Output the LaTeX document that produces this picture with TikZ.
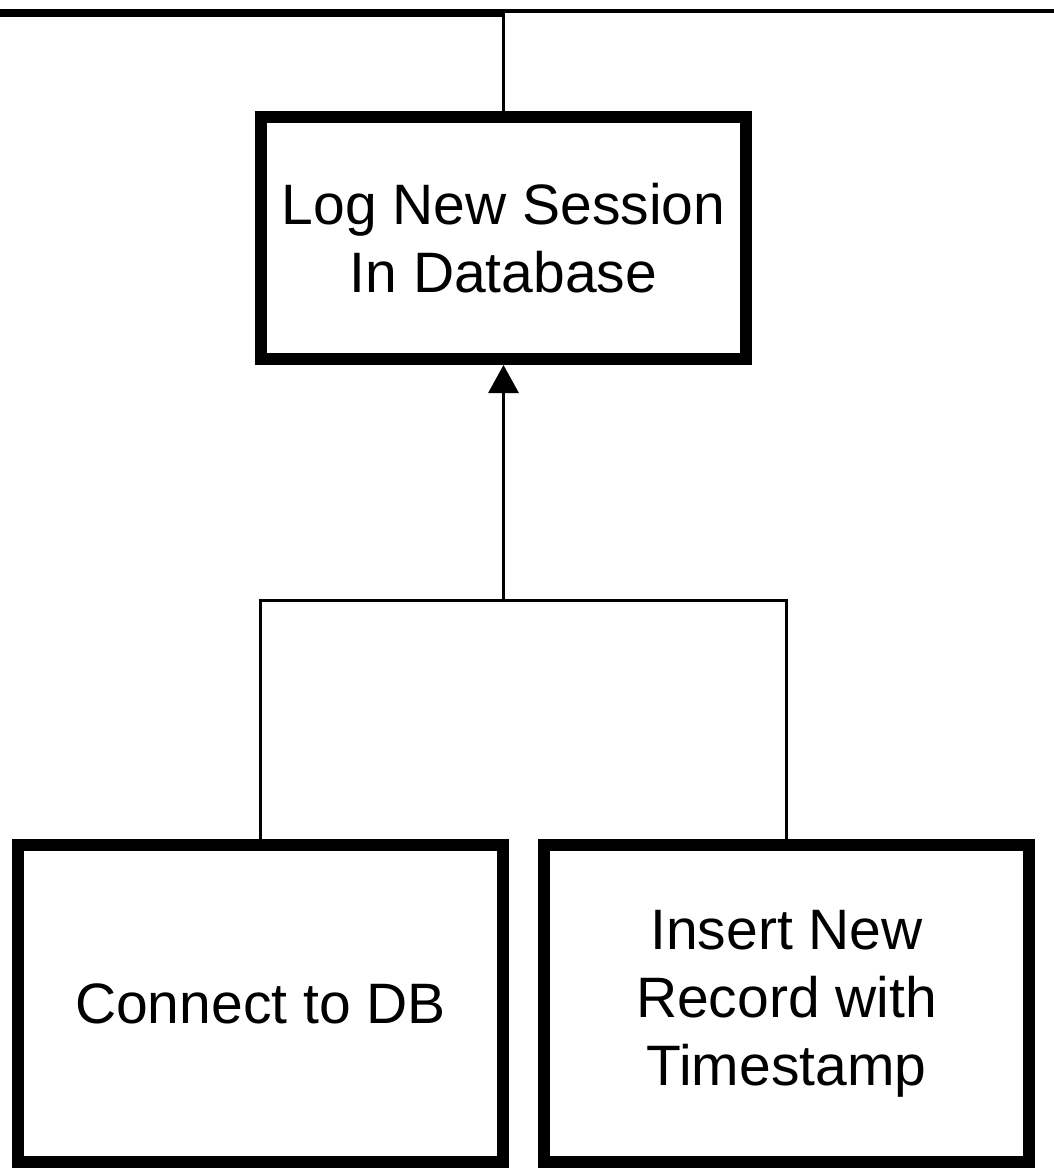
\documentclass[tikz,border=0pt]{standalone}
\usepackage{fontspec}
\setmainfont{Liberation Sans}
\usetikzlibrary{arrows.meta}
\begin{document}
\begin{tikzpicture}[x=1pt,y=-1pt,
  taskbox/.style={draw=black,line width=12pt,fill=white,minimum width=485pt,
    inner sep=0pt,align=center,font=\fontsize{57}{68}\selectfont},
  link/.style={draw=black,line width=3pt},
  uparrow/.style={link,-{Triangle[width=30pt,length=28pt]}}]
\useasboundingbox (0,0) rectangle (1054,1168);
% top frame edge
\draw[line width=8pt] (0,13) -- (503,13);
\draw[line width=4pt] (503,11) -- (1054,11);
\coordinate (top) at (503.5,11);
% boxes
\node[taskbox,minimum height=242pt] (log) at (503.5,238) {Log New Session\\In Database};
\node[taskbox,minimum height=317pt] (conn) at (260.5,1003.5) {Connect to DB};
\node[taskbox,minimum height=317pt] (ins) at (786.5,1003.5) {Insert New\\Record with\\Timestamp};
\coordinate (join) at (503.5,600);
% connectors
\draw[link] (top) -- (log.north);
\draw[link] (conn.north) |- (join) -| (ins.north);
\draw[uparrow] (join) -- (log.south);
\end{tikzpicture}
\end{document}
